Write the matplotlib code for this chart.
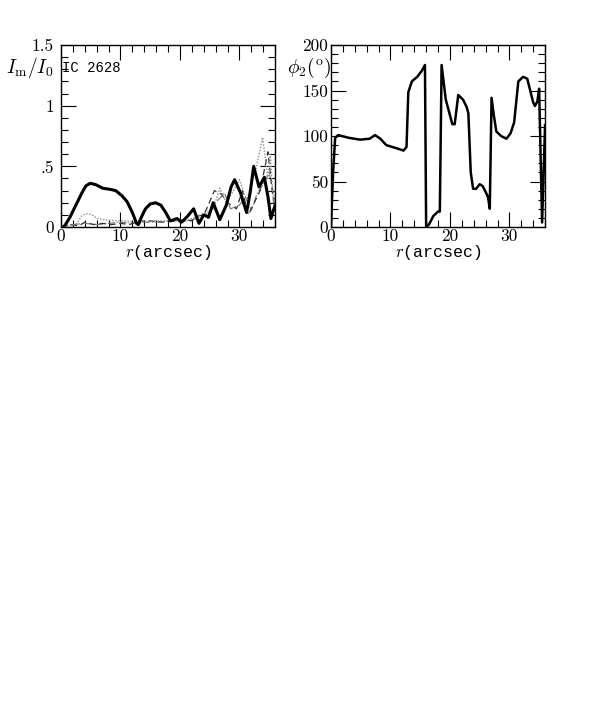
import matplotlib
matplotlib.use("Agg")
import matplotlib.pyplot as plt
from matplotlib.ticker import MultipleLocator, FixedLocator

plt.rcParams['mathtext.fontset'] = 'cm'
plt.rcParams['font.family'] = 'DejaVu Sans'

# amplitude of the Fourier terms (left panel)
r_m2 = [0.5, 1.5, 2.5, 3.5, 4.2, 4.9, 5.8, 7.0, 8.3, 9.2, 10.2, 11.1, 12.0, 12.7, 13.0, 13.5, 14.2, 15.0, 15.9, 16.8, 17.6, 18.4, 19.5, 20.3, 21.3, 22.3, 23.2, 24.0, 24.8, 25.6, 26.7, 27.8, 28.6, 29.2, 30.2, 31.2, 31.8, 32.4, 33.3, 34.2, 34.8, 35.3, 36.0]
amp_m2 = [0.0, 0.08, 0.18, 0.28, 0.34, 0.36, 0.35, 0.32, 0.31, 0.30, 0.26, 0.21, 0.12, 0.03, 0.02, 0.08, 0.15, 0.19, 0.20, 0.18, 0.12, 0.05, 0.07, 0.04, 0.09, 0.15, 0.03, 0.10, 0.08, 0.20, 0.06, 0.18, 0.33, 0.39, 0.28, 0.12, 0.28, 0.50, 0.33, 0.41, 0.25, 0.07, 0.18]

r_m1 = [0.0, 1.5, 2.5, 3.6, 4.5, 5.2, 6.1, 7.5, 9.5, 11.0, 12.2, 13.4, 14.5, 16.0, 17.8, 19.5, 21.0, 22.5, 23.4, 24.5, 25.6, 26.7, 27.8, 29.0, 30.0, 31.2, 32.0, 32.8, 33.9, 34.8, 35.2, 35.7, 36.0]
amp_m1 = [0.01, 0.01, 0.02, 0.10, 0.11, 0.10, 0.07, 0.06, 0.05, 0.05, 0.04, 0.03, 0.05, 0.05, 0.05, 0.06, 0.05, 0.08, 0.10, 0.12, 0.15, 0.32, 0.20, 0.30, 0.39, 0.22, 0.35, 0.48, 0.74, 0.40, 0.60, 0.20, 0.25]

r_m3 = [0.0, 1.5, 3.0, 4.0, 5.5, 7.0, 8.5, 10.0, 11.5, 13.0, 15.0, 17.0, 19.0, 21.0, 22.0, 23.0, 24.0, 24.5, 25.8, 27.0, 28.0, 29.5, 30.5, 31.5, 32.5, 33.5, 34.8, 35.5, 36.0]
amp_m3 = [0.01, 0.02, 0.01, 0.04, 0.02, 0.03, 0.02, 0.03, 0.02, 0.05, 0.05, 0.04, 0.05, 0.06, 0.05, 0.09, 0.10, 0.15, 0.30, 0.27, 0.20, 0.15, 0.30, 0.10, 0.20, 0.30, 0.62, 0.30, 0.15]

r_m4 = [0.0, 2.0, 4.0, 6.0, 8.0, 10.0, 12.0, 14.0, 16.0, 18.0, 20.0, 22.0, 23.5, 25.0, 26.0, 27.5, 28.5, 30.0, 31.0, 32.0, 33.0, 34.0, 35.0, 36.0]
amp_m4 = [0.01, 0.02, 0.03, 0.02, 0.03, 0.04, 0.03, 0.04, 0.04, 0.05, 0.04, 0.06, 0.08, 0.12, 0.20, 0.28, 0.15, 0.18, 0.25, 0.14, 0.28, 0.35, 0.45, 0.22]

# phase of the m=2 term (right panel)
r_phi = [0.0, 0.35, 0.7, 1.2, 3.0, 4.9, 6.5, 7.4, 8.3, 9.3, 10.8, 12.2, 12.7, 13.0, 13.6, 14.5, 15.2, 15.8, 16.0, 16.5, 17.2, 18.0, 18.3, 18.6, 19.3, 20.0, 20.4, 20.8, 21.4, 22.2, 22.8, 23.1, 23.5, 23.9, 24.4, 25.0, 25.5, 25.9, 26.4, 26.7, 27.0, 27.4, 27.8, 28.6, 29.5, 30.2, 30.8, 31.5, 32.3, 33.0, 33.5, 34.0, 34.3, 34.7, 35.0, 35.5, 36.0]
phi2 = [0, 60, 98, 101, 98, 96, 97, 101, 97, 90, 87, 84, 88, 148, 160, 165, 171, 178, 0, 3, 12, 17, 17, 178, 140, 123, 113, 113, 145, 140, 132, 125, 60, 42, 42, 47, 45, 40, 33, 20, 142, 122, 105, 100, 97, 103, 115, 160, 165, 163, 150, 137, 133, 138, 152, 5, 112]

amp_ticks = [0, 0.5, 1, 1.5]
amp_ticklabels = ['0', '.5', '1', '1.5']

fig = plt.figure(figsize=(5.98, 7.2), dpi=100)
ax1 = fig.add_axes([0.102, 0.6847, 0.358, 0.2528])
ax2 = fig.add_axes([0.5535, 0.6847, 0.358, 0.2528])

ax1.plot(r_m4, amp_m4, color='0.45', lw=0.8, ls='-.')
ax1.plot(r_m3, amp_m3, color='0.2', lw=0.9, ls=(0, (5, 3)))
ax1.plot(r_m1, amp_m1, color='0.55', lw=1.0, ls=(0, (1, 1.2)))
ax1.plot(r_m2, amp_m2, color='black', lw=2.2)
ax1.set_xlim(0, 36)
ax1.set_ylim(0, 1.5)
ax1.yaxis.set_major_locator(FixedLocator(amp_ticks))
ax1.set_yticklabels(amp_ticklabels)
ax1.yaxis.set_minor_locator(MultipleLocator(0.1))
ax1.tick_params(axis='y', pad=5)
ax1.text(0.005, 0.874, 'IC 2628', transform=ax1.transAxes, fontsize=10,
         family='Liberation Mono', va='center')
fig.text(0.01, 0.906, r'$I_{\rm m}/I_0$', fontsize=14, va='center', ha='left')

ax2.plot(r_phi, phi2, color='black', lw=1.8)
ax2.set_xlim(0, 36)
ax2.set_ylim(0, 200)
ax2.yaxis.set_major_locator(MultipleLocator(50))
ax2.yaxis.set_minor_locator(MultipleLocator(10))
ax2.tick_params(axis='y', pad=2)
fig.text(0.553, 0.905, r'$\phi_2(^{\rm o})$', fontsize=14, va='center', ha='right')

for ax in (ax1, ax2):
    ax.xaxis.set_major_locator(MultipleLocator(10))
    ax.xaxis.set_minor_locator(MultipleLocator(2))
    ax.tick_params(which='both', direction='in', top=True, right=True,
                   labelsize=12.5, width=0.8, labelfontfamily='cmr10')
    ax.tick_params(axis='x', pad=1.5)
    ax.tick_params(which='major', length=11)
    ax.tick_params(which='minor', length=5)
    ax.set_xlabel(r'$r$(arcsec)', fontsize=12, family='Liberation Mono', labelpad=-1)
    for s in ax.spines.values():
        s.set_linewidth(1.0)

fig.savefig('out.png', dpi=100)
